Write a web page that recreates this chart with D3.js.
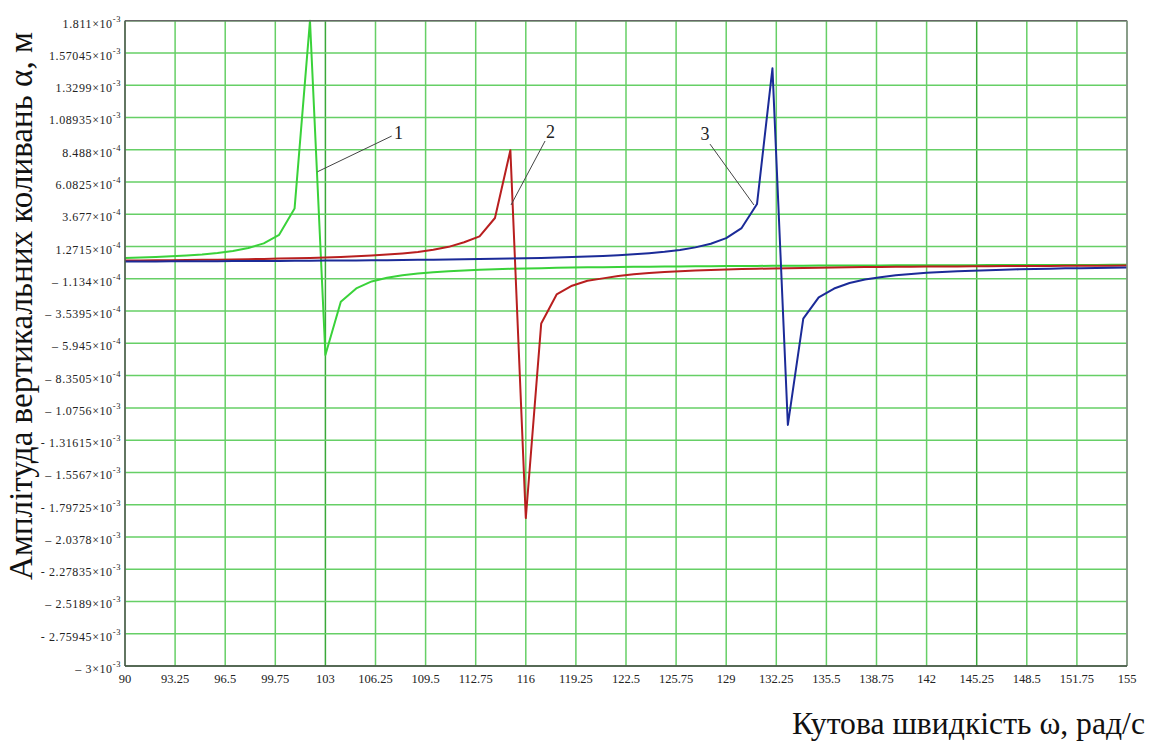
<!DOCTYPE html>
<html><head><meta charset="utf-8">
<script src="https://cdn.jsdelivr.net/npm/d3@7"></script>
<style>body{margin:0;background:#fff}svg{display:block}</style>
</head><body><svg id="c" width="1155" height="745"></svg>
<script>
// ---- data ----
const omega = [90,91,92,93,94,95,96,97,98,99,100,101,102,103,104,105,106,107,108,109,110,111,112,113,114,115,116,117,118,119,120,121,122,123,124,125,126,127,128,129,130,131,132,133,134,135,136,137,138,139,140,141,142,143,144,145,146,147,148,149,150,151,152,153,154,155];
const curve1 = [4.2e-5,4.5e-5,4.9e-5,5.4e-5,6.0e-5,6.8e-5,7.9e-5,9.4e-5,1.16e-4,1.51e-4,2.15e-4,4.1e-4,1.811e-3,-6.81e-4,-2.85e-4,-1.85e-4,-1.33e-4,-1.05e-4,-8.6e-5,-7.4e-5,-6.4e-5,-5.7e-5,-5.1e-5,-4.6e-5,-4.2e-5,-3.9e-5,-3.6e-5,-3.4e-5,-3.15e-5,-2.96e-5,-2.79e-5,-2.64e-5,-2.5e-5,-2.38e-5,-2.27e-5,-2.17e-5,-2.07e-5,-1.99e-5,-1.91e-5,-1.84e-5,-1.77e-5,-1.71e-5,-1.65e-5,-1.59e-5,-1.54e-5,-1.49e-5,-1.45e-5,-1.41e-5,-1.37e-5,-1.33e-5,-1.29e-5,-1.26e-5,-1.23e-5,-1.2e-5,-1.17e-5,-1.14e-5,-1.11e-5,-1.09e-5,-1.07e-5,-1.04e-5,-1.02e-5,-1.0e-5,-9.8e-6,-9.6e-6,-9.4e-6,-9.2e-6];
const curve2 = [2.28e-5,2.37e-5,2.47e-5,2.58e-5,2.7e-5,2.83e-5,2.97e-5,3.13e-5,3.31e-5,3.51e-5,3.73e-5,3.98e-5,4.27e-5,4.61e-5,5.0e-5,5.47e-5,6.04e-5,6.73e-5,7.61e-5,8.74e-5,1.03e-4,1.25e-4,1.59e-4,2.03e-4,3.4e-4,8.45e-4,-1.897e-3,-4.46e-4,-2.3e-4,-1.65e-4,-1.28e-4,-1.1e-4,-9.27e-5,-8.0e-5,-7.04e-5,-6.28e-5,-5.67e-5,-5.17e-5,-4.75e-5,-4.4e-5,-4.09e-5,-3.82e-5,-3.59e-5,-3.38e-5,-3.19e-5,-3.03e-5,-2.88e-5,-2.75e-5,-2.62e-5,-2.51e-5,-2.41e-5,-2.31e-5,-2.22e-5,-2.14e-5,-2.07e-5,-2.0e-5,-1.93e-5,-1.87e-5,-1.81e-5,-1.76e-5,-1.71e-5,-1.66e-5,-1.61e-5,-1.57e-5,-1.53e-5,-1.49e-5];
const curve3 = [1.55e-5,1.59e-5,1.63e-5,1.67e-5,1.71e-5,1.76e-5,1.81e-5,1.86e-5,1.91e-5,1.97e-5,2.03e-5,2.09e-5,2.16e-5,2.24e-5,2.32e-5,2.4e-5,2.49e-5,2.59e-5,2.69e-5,2.81e-5,2.93e-5,3.07e-5,3.22e-5,3.39e-5,3.57e-5,3.77e-5,4.0e-5,4.26e-5,4.56e-5,4.9e-5,5.29e-5,5.75e-5,6.3e-5,6.97e-5,7.8e-5,8.84e-5,1.02e-4,1.21e-4,1.48e-4,1.9e-4,2.65e-4,4.45e-4,1.456e-3,-1.203e-3,-4.1e-4,-2.52e-4,-1.86e-4,-1.45e-4,-1.19e-4,-1.01e-4,-8.72e-5,-7.7e-5,-6.9e-5,-6.24e-5,-5.7e-5,-5.25e-5,-4.86e-5,-4.53e-5,-4.24e-5,-3.98e-5,-3.75e-5,-3.55e-5,-3.37e-5,-3.21e-5,-3.06e-5,-2.92e-5];
const seriesColors = ["#3ad23a", "#b81f1f", "#1b2b98"];

const xTickValues = [90,93.25,96.5,99.75,103,106.25,109.5,112.75,116,119.25,122.5,125.75,129,132.25,135.5,138.75,142,145.25,148.5,151.75,155];
const xTickLabels = ["90","93.25","96.5","99.75","103","106.25","109.5","112.75","116","119.25","122.5","125.75","129","132.25","135.5","138.75","142","145.25","148.5","151.75","155"];
const yTickValues = [1.811e-3,1.57045e-3,1.3299e-3,1.08935e-3,8.488e-4,6.0825e-4,3.677e-4,1.2715e-4,-1.134e-4,-3.5395e-4,-5.945e-4,-8.3505e-4,-1.0756e-3,-1.31615e-3,-1.5567e-3,-1.79725e-3,-2.0378e-3,-2.27835e-3,-2.5189e-3,-2.75945e-3,-3e-3];
const yTickMantissas = ["1.811","1.57045","1.3299","1.08935","8.488","6.0825","3.677","1.2715","– 1.134","– 3.5395","– 5.945","– 8.3505","– 1.0756","- 1.31615","– 1.5567","- 1.79725","– 2.0378","- 2.27835","– 2.5189","- 2.75945","– 3"];
const yTickExponents = ["-3","-3","-3","-3","-4","-4","-4","-4","-4","-4","-4","-4","-3","-3","-3","-3","-3","-3","-3","-3","-3"];

const annotNames = ["1","2","3"];
const annotFromW = [102.49,115.04,130.80];
const annotFromA = [6.85e-4,4.37e-4,4.37e-4];
const annotToW = [107.3,117.25,127.95];
const annotToA = [9.51e-4,9.14e-4,8.91e-4];
const annotLabelW = [107.75,117.6,127.63];
const annotLabelA = [9.74e-4,9.8e-4,9.65e-4];

const yTitle = "Амплітуда вертикальних коливань α, м";
const xTitle = "Кутова швидкість ω, рад/с";

// ---- chart ----
const svg = d3.select("#c");
svg.append("rect").attr("width",1155).attr("height",745).attr("fill","#fff");
const L = 125, R = 1127, T = 20.7, B = 666;
const x = d3.scaleLinear().domain([90,155]).range([L,R]);
const y = d3.scaleLinear().domain([-3e-3,1.811e-3]).range([B,T]);
const serif = "'Liberation Serif','Times New Roman',serif";

// grid
const grid = svg.append("g");
grid.selectAll("line.v").data(xTickValues).join("line")
  .attr("x1",d=>x(d)).attr("x2",d=>x(d)).attr("y1",T).attr("y2",B)
  .attr("stroke",d=>(d===103||d===145.25)?"#3aa83a":"#66cf66").attr("stroke-width",1.5);
grid.selectAll("line.h").data(yTickValues).join("line")
  .attr("x1",L).attr("x2",R).attr("y1",d=>y(d)).attr("y2",d=>y(d))
  .attr("stroke","#66cf66").attr("stroke-width",1.5);

// curves
const series = [curve1, curve2, curve3];
const line = d3.line().x((d,i)=>x(omega[i])).y(d=>y(d));
series.forEach((s,k)=>{
  svg.append("path").datum(s).attr("d",line).attr("fill","none")
    .attr("stroke",seriesColors[k]).attr("stroke-width",2).attr("stroke-linejoin","round");
});

// frame
svg.append("line").attr("x1",L).attr("x2",R).attr("y1",T).attr("y2",T).attr("stroke","#666").attr("stroke-width",1.5);
svg.append("line").attr("x1",R).attr("x2",R).attr("y1",T).attr("y2",B).attr("stroke","#888").attr("stroke-width",1.5);
svg.append("line").attr("x1",L).attr("x2",L).attr("y1",T).attr("y2",B).attr("stroke","#555").attr("stroke-width",1.5);
svg.append("line").attr("x1",L).attr("x2",R).attr("y1",B).attr("y2",B).attr("stroke","#444").attr("stroke-width",1.5);

// x tick labels
svg.append("g").selectAll("text").data(xTickValues).join("text")
  .attr("x",d=>x(d)).attr("y",683).attr("text-anchor","middle")
  .attr("font-family",serif).attr("font-size",12.5).attr("fill","#222")
  .text((d,i)=>xTickLabels[i]);

// y tick labels
const yl = svg.append("g").selectAll("text").data(yTickValues).join("text")
  .attr("x",L-4).attr("y",d=>y(d)+7).attr("text-anchor","end")
  .attr("font-family",serif).attr("font-size",12).attr("letter-spacing",0.6).attr("fill","#222");
yl.append("tspan").text((d,i)=>yTickMantissas[i]+"×10");
yl.append("tspan").attr("dy",-6).attr("font-size",8.5).text((d,i)=>yTickExponents[i]);

// annotations
annotNames.forEach((n,i)=>{
  svg.append("line").attr("x1",x(annotFromW[i])).attr("y1",y(annotFromA[i]))
    .attr("x2",x(annotToW[i])).attr("y2",y(annotToA[i]))
    .attr("stroke","#444").attr("stroke-width",1);
  svg.append("text").attr("x",x(annotLabelW[i])).attr("y",y(annotLabelA[i]))
    .attr("text-anchor","middle").attr("dominant-baseline","central")
    .attr("font-family",serif).attr("font-size",18).attr("fill","#222").text(n);
});

// titles
function fit(sel, target){
  const len = sel.node().getComputedTextLength();
  sel.attr("font-size", 30*target/len);
}
const yt = svg.append("text").attr("transform","translate(32,306) rotate(-90)")
  .attr("text-anchor","middle").attr("font-family",serif).attr("font-size",30).attr("fill","#111").text(yTitle);
fit(yt, 548);
const xtt = svg.append("text").attr("x",1145).attr("y",734).attr("text-anchor","end")
  .attr("font-family",serif).attr("font-size",30).attr("fill","#111").text(xTitle);
fit(xtt, 353);
</script></body></html>
